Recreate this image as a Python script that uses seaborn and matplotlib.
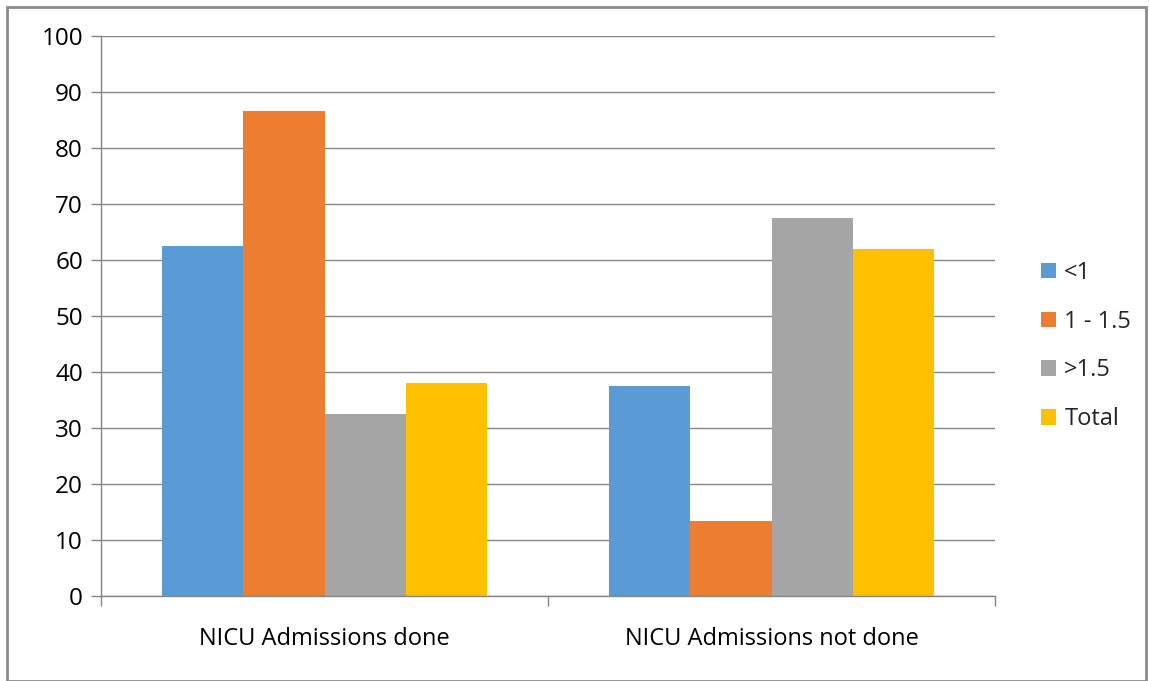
import matplotlib
matplotlib.use("Agg")
import matplotlib.pyplot as plt
from matplotlib.patches import Rectangle
import seaborn as sns
import pandas as pd

categories = ["NICU Admissions done", "NICU Admissions not done"]
groups = ["<1", "1 - 1.5", ">1.5", "Total"]
values_lt1 = [62.5, 37.5]
values_1_15 = [86.67, 13.33]
values_gt15 = [32.5, 67.5]
values_total = [38.0, 62.0]
palette = ["#5B9BD5", "#ED7D31", "#A5A5A5", "#FFC000"]

rows = []
for grp, vals in zip(groups, [values_lt1, values_1_15, values_gt15, values_total]):
    for cat, v in zip(categories, vals):
        rows.append({"category": cat, "group": grp, "value": v})
df = pd.DataFrame(rows)

sns.set_theme(style="white")
plt.rcParams["font.family"] = ["Open Sans", "DejaVu Sans"]

fig = plt.figure(figsize=(11.49, 6.81), dpi=100)
ax = fig.add_axes([101 / 1149, 1 - 596 / 681, 894 / 1149, 560 / 681])

sns.barplot(data=df, x="category", y="value", hue="group", hue_order=groups,
            order=categories, palette=palette, width=0.725, gap=0,
            saturation=1, linewidth=0, ax=ax)

grid_c = "#868686"
ax.set_ylim(0, 100)
ax.set_xlim(-0.5, 1.5)
ax.set_yticks(range(0, 101, 10))
ax.yaxis.grid(True, color=grid_c, linewidth=1)
ax.set_axisbelow(True)
ax.tick_params(axis="y", length=7, color=grid_c, width=1, labelsize=17.5, pad=6,
               left=True, labelcolor="black")
ax.set_xticks([0, 1])
ax.set_xticklabels(categories)
ax.tick_params(axis="x", which="major", length=0, labelsize=17, pad=22, labelcolor="black")
ax.set_xticks([-0.5, 0.5, 1.5], minor=True)
ax.tick_params(axis="x", which="minor", length=7, color=grid_c, width=1, bottom=True)
ax.set_xlabel("")
ax.set_ylabel("")
for side in ["top", "right"]:
    ax.spines[side].set_visible(False)
for side in ["left", "bottom"]:
    ax.spines[side].set_color(grid_c)
    ax.spines[side].set_linewidth(1)

handles, labels = ax.get_legend_handles_labels()
ax.legend(handles, labels, loc="center left", bbox_to_anchor=(1032 / 1149, 1 - 346 / 681),
          bbox_transform=fig.transFigure, frameon=False, fontsize=17,
          handlelength=0.62, handleheight=0.62, handletextpad=0.35, labelspacing=1.05,
          borderaxespad=0)

fig.patches.append(Rectangle((7 / 1149, 0), 1139 / 1149, 674 / 681, transform=fig.transFigure,
                             fill=False, edgecolor="#8C8C8C", linewidth=2))

fig.savefig("out.png", dpi=100)
